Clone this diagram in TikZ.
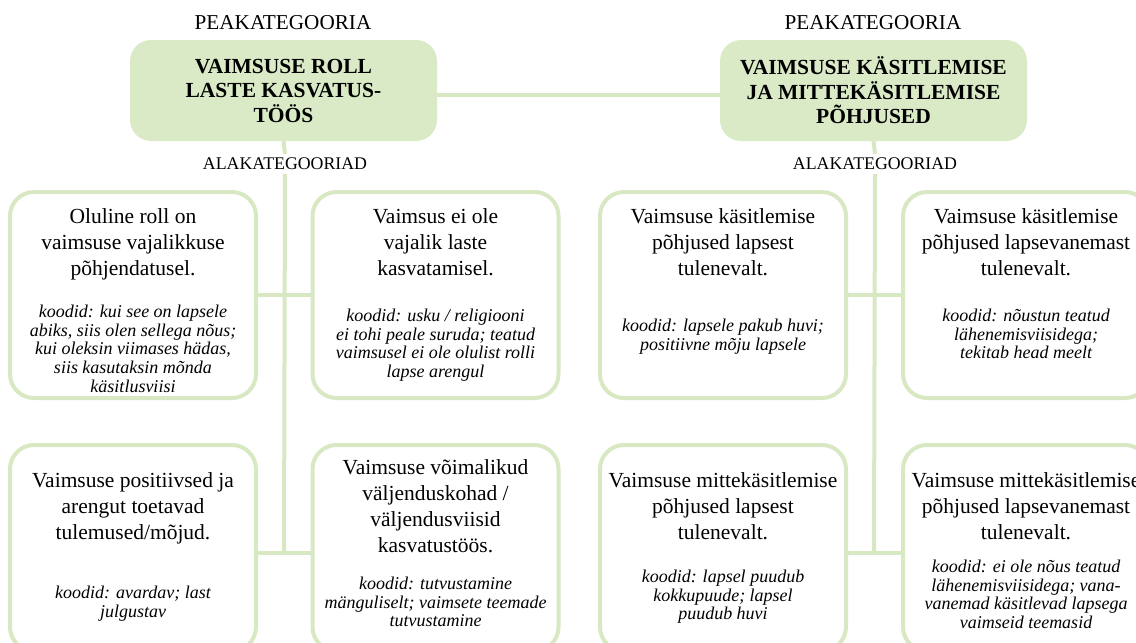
\documentclass[tikz,border=0pt]{standalone}
\usepackage{fontspec}
\setmainfont{Liberation Serif}
\usetikzlibrary{calc}
\definecolor{leaf}{HTML}{DAEAC6}
\definecolor{leafline}{HTML}{D7E8C3}

\begin{document}
\begin{tikzpicture}[x=1pt,y=-1pt,
    peak/.style={draw=leaf,fill=leaf,line width=2pt,rounded corners=20pt,
      minimum width=305pt,minimum height=99pt,align=center,
      font=\fontsize{21.5}{24.5}\selectfont\bfseries},
    ala/.style={draw=leafline,fill=white,line width=4pt,rounded corners=24pt,
      minimum width=246pt,minimum height=206pt},
    head/.style={anchor=north,align=center,inner sep=0pt,
      font=\fontsize{21.5}{26}\selectfont},
    codes/.style={anchor=north,align=center,inner sep=0pt,
      font=\fontsize{18}{18.6}\selectfont\itshape},
    tag/.style={inner sep=0pt,font=\fontsize{21.2}{24}\selectfont},
    subtag/.style={inner sep=4pt,font=\fontsize{17.8}{20}\selectfont},
    link/.style={draw=leafline,line width=4pt}]
  \useasboundingbox (0,0) rectangle (1136,643);
  %
  % peakategooriad
  \node[tag] (peakL) at (283,23) {PEAKATEGOORIA};
  \node[tag] (peakR) at (873,23) {PEAKATEGOORIA};
  \node[peak] (roll) at (283.5,90.5) {VAIMSUSE ROLL\\LASTE KASVATUS-\\TÖÖS};
  \node[peak] (pohj) at (873.5,90.5) {VAIMSUSE KÄSITLEMISE\\JA MITTEKÄSITLEMISE\\PÕHJUSED};
  \node[subtag] (alaL) at (285,164) {ALAKATEGOORIAD};
  \node[subtag] (alaR) at (875,164) {ALAKATEGOORIAD};
  %
  % alakategooriad, vasak pool
  \node[ala] (b11) at (133,295) {};
  \node[ala] (b12) at (435.5,295) {};
  \node[ala] (b21) at (133,548) {};
  \node[ala] (b22) at (435.5,548) {};
  % alakategooriad, parem pool
  \node[ala] (b13) at (723,295) {};
  \node[ala] (b14) at (1026,295) {};
  \node[ala] (b23) at (723,548) {};
  \node[ala] (b24) at (1026,548) {};
  %
  % connectors
  \coordinate (jL) at (284,553);
  \coordinate (jR) at (874,553);
  \draw[link] ([yshift=-4pt]roll.east) -- ([yshift=-4pt]pohj.west);
  \draw[link] (roll.south) -- (alaL.north);
  \draw[link] (pohj.south) -- (alaR.north);
  \draw[link] (alaL.south) -- (jL);
  \draw[link] (alaR.south) -- (jR);
  \draw[link] (b11.east) -- (b12.west);
  \draw[link] (b13.east) -- (b14.west);
  \draw[link] (b21.east |- jL) -- (b22.west |- jL);
  \draw[link] (b23.east |- jR) -- (b24.west |- jR);
  %
  % texts
  \node[head] (t11) at ($(b11.north)+(0,18)$) {Oluline roll on\\vaimsuse vajalikkuse\\põhjendatusel.};
  \node[codes] (c11) at ($(b11.north)+(0,115)$) {koodid: kui see on lapsele\\abiks, siis olen sellega nõus;\\kui oleksin viimases hädas,\\siis kasutaksin mõnda\\käsitlusviisi};
  \node[head] (t12) at ($(b12.north)+(0,18)$) {Vaimsus ei ole\\vajalik laste\\kasvatamisel.};
  \node[codes] (c12) at ($(b12.north)+(0,119)$) {koodid: usku / religiooni\\ei tohi peale suruda; teatud\\vaimsusel ei ole olulist rolli\\lapse arengul};
  \node[head] (t21) at ($(b21.north)+(0,29)$) {Vaimsuse positiivsed ja\\arengut toetavad\\tulemused/mõjud.};
  \node[codes] (c21) at ($(b21.north)+(0,143)$) {koodid: avardav; last\\julgustav};
  \node[head] (t22) at ($(b22.north)+(0,16)$) {Vaimsuse võimalikud\\väljenduskohad /\\väljendusviisid\\kasvatustöös.};
  \node[codes] (c22) at ($(b22.north)+(0,134)$) {koodid: tutvustamine\\mänguliselt; vaimsete teemade\\tutvustamine};
  %
  \node[head] (t13) at ($(b13.north)+(0,18)$) {Vaimsuse käsitlemise\\põhjused lapsest\\tulenevalt.};
  \node[codes] (c13) at ($(b13.north)+(0,129)$) {koodid: lapsele pakub huvi;\\positiivne mõju lapsele};
  \node[head] (t14) at ($(b14.north)+(0,18)$) {Vaimsuse käsitlemise\\põhjused lapsevanemast\\tulenevalt.};
  \node[codes] (c14) at ($(b14.north)+(0,119)$) {koodid: nõustun teatud\\lähenemisviisidega;\\tekitab head meelt};
  \node[head] (t23) at ($(b23.north)+(0,29)$) {Vaimsuse mittekäsitlemise\\põhjused lapsest\\tulenevalt.};
  \node[codes] (c23) at ($(b23.north)+(0,127)$) {koodid: lapsel puudub\\kokkupuude; lapsel\\puudub huvi};
  \node[head] (t24) at ($(b24.north)+(0,29)$) {Vaimsuse mittekäsitlemise\\põhjused lapsevanemast\\tulenevalt.};
  \node[codes] (c24) at ($(b24.north)+(0,117)$) {koodid: ei ole nõus teatud\\lähenemisviisidega; vana-\\vanemad käsitlevad lapsega\\vaimseid teemasid};
\end{tikzpicture}
\end{document}
